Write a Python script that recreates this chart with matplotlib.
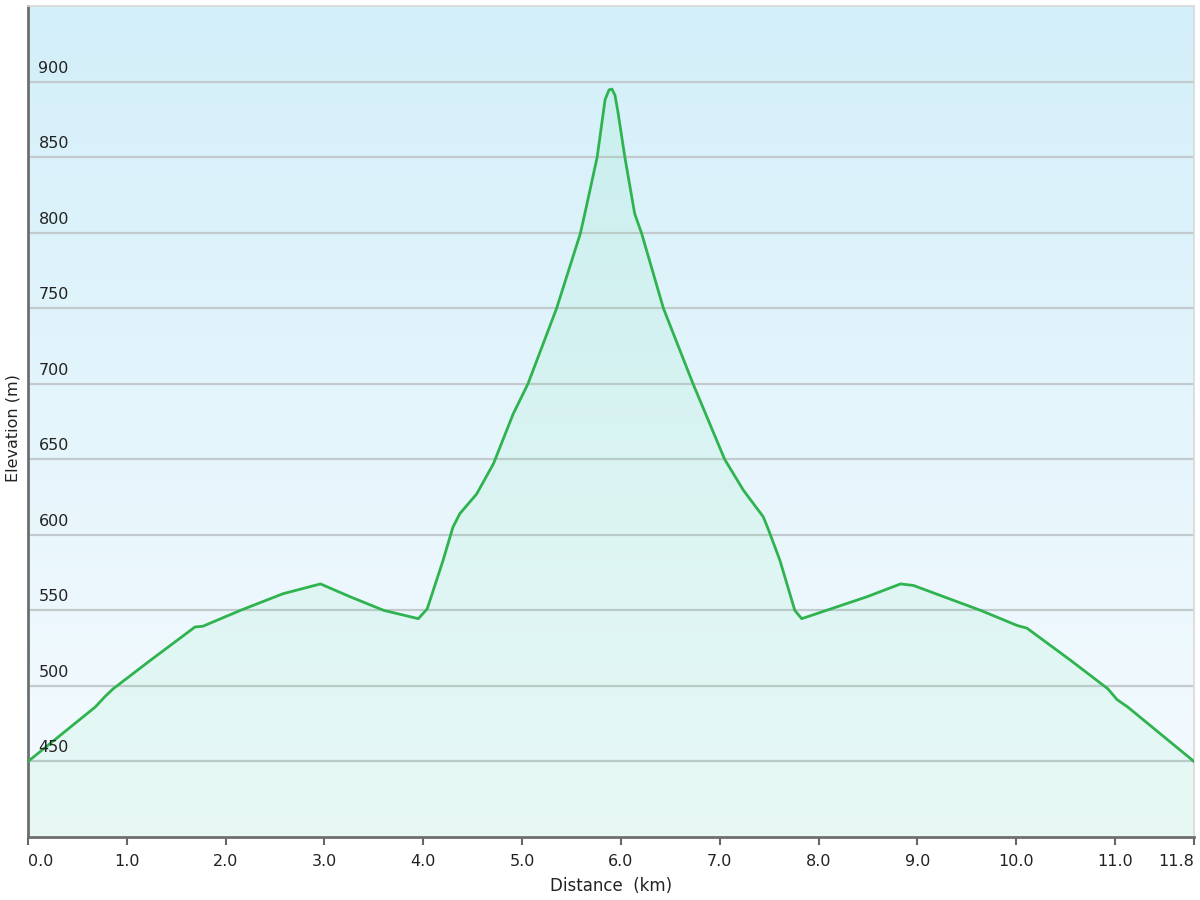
import numpy as np
import matplotlib
matplotlib.use("Agg")
import matplotlib.pyplot as plt
from matplotlib.colors import LinearSegmentedColormap

# elevation profile
distance_km = [0.0, 0.68, 0.78, 0.86, 1.24, 1.69, 1.77, 2.15, 2.58, 2.96,
               3.26, 3.60, 3.95, 4.04, 4.20, 4.30, 4.37, 4.54, 4.71, 4.91,
               5.06, 5.35, 5.59, 5.65, 5.76, 5.84, 5.88, 5.91, 5.94, 5.97,
               6.04, 6.14, 6.21, 6.43, 6.73, 7.05, 7.24, 7.44, 7.49, 7.61,
               7.76, 7.83, 8.49, 8.83, 8.96, 9.64, 10.01, 10.11, 10.55, 10.93,
               11.02, 11.13, 11.8]
elevation_m = [450, 486, 493, 498, 517, 539, 539.5, 550, 561, 567.5,
               559, 550, 544.5, 551, 583, 605, 614, 627, 647, 680,
               700, 750, 799.5, 817, 850, 888, 894.5, 895, 891, 880,
               850, 812.5, 799.5, 750, 700, 650, 629.5, 612, 604, 583,
               550, 544.5, 559, 567.5, 566.5, 550, 540, 538.2, 517, 498,
               491, 486, 450]

xticks = [0.0, 1.0, 2.0, 3.0, 4.0, 5.0, 6.0, 7.0, 8.0, 9.0, 10.0, 11.0, 11.8]
xtick_labels = ["0.0", "1.0", "2.0", "3.0", "4.0", "5.0", "6.0", "7.0", "8.0",
                "9.0", "10.0", "11.0", "11.8"]
yticks = [450, 500, 550, 600, 650, 700, 750, 800, 850, 900]

fig = plt.figure(figsize=(12, 9), dpi=100)
ax = fig.add_axes([28 / 1200, 63 / 900, 1166 / 1200, 831 / 900])
ax.set_xlim(0, 11.8)
ax.set_ylim(400, 950)

# background gradient
bg = LinearSegmentedColormap.from_list("bg", ["#f6fbff", "#d3eff9"])
grad = np.linspace(0, 1, 256).reshape(-1, 1)
ax.imshow(grad, cmap=bg, origin="lower", aspect="auto",
          extent=[0, 11.8, 400, 950], zorder=0)

for y in yticks:
    ax.axhline(y, color="#c2cacd", lw=1.6, zorder=1)
    ax.text(0.009, y + 4, str(y), transform=ax.get_yaxis_transform(),
            fontsize=11.5, color="#222222", va="bottom", ha="left", zorder=5)

ax.fill_between(distance_km, elevation_m, 400, color="#35e27a", alpha=0.07,
                lw=0, zorder=2)
ax.plot(distance_km, elevation_m, color="#2fb34f", lw=2.0, zorder=3,
        solid_joinstyle="round")

ax.set_yticks([])
ax.set_xticks(xticks)
ax.set_xticklabels(xtick_labels, fontsize=11.5, color="#222222")
labels = ax.get_xticklabels()
labels[0].set_ha("left")
labels[-1].set_ha("right")
ax.tick_params(axis="x", direction="out", length=6, width=1.5,
               color="#666666", pad=6)

for side in ["top", "right"]:
    ax.spines[side].set_color("#d8d8d8")
    ax.spines[side].set_linewidth(1.2)
for side in ["left", "bottom"]:
    ax.spines[side].set_color("#6e6e6e")
    ax.spines[side].set_linewidth(2)

ax.set_xlabel("Distance  (km)", fontsize=12, color="#222222", labelpad=6)
fig.text(13 / 1200, (900 - 428) / 900, "Elevation (m)", rotation=90,
         fontsize=11.5, color="#222222", ha="center", va="center")

fig.savefig("out.png", dpi=100)
